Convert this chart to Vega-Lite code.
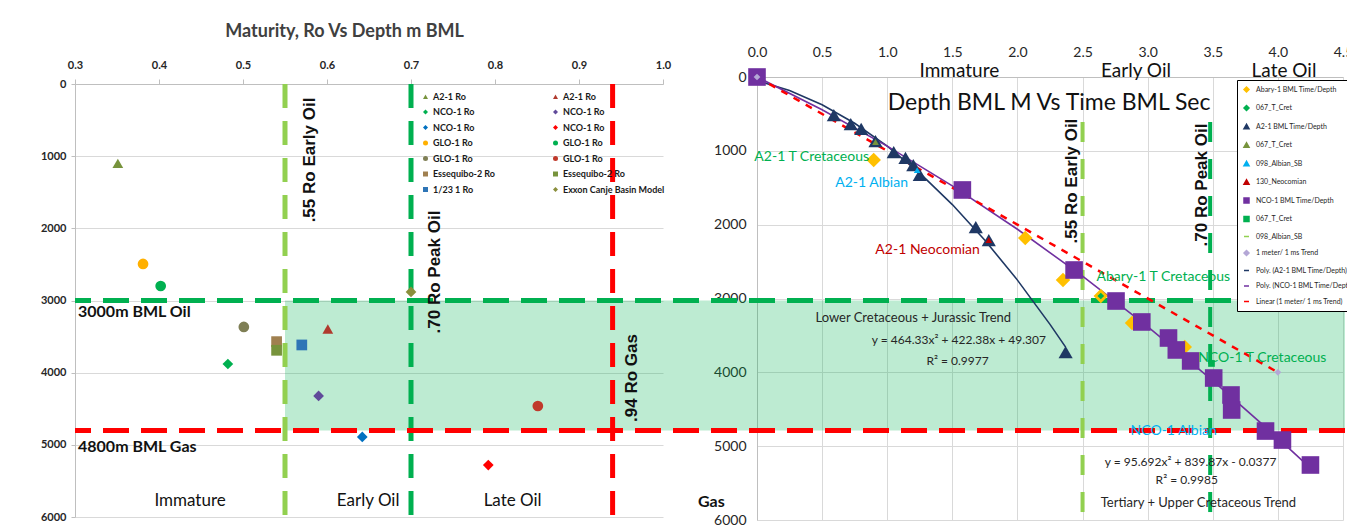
{
  "$schema": "https://vega.github.io/schema/vega-lite/v6.json",
  "width": 1270,
  "height": 439,
  "autosize": {"type": "none"},
  "padding": {"left": 75, "top": 80, "right": 2, "bottom": 13},
  "background": "white",
  "config": {
    "view": {"stroke": null},
    "font": "Lato",
    "axis": {"labelFont": "Lato", "labelOverlap": false, "labelFlush": false, "labelBound": false},
    "legend": {"labelFont": "Lato"}
  },
  "datasets": {
    "leftPoints": [
      {"series": "A2-1 Ro#1", "ro": 0.351, "depth": 1100},
      {"series": "A2-1 Ro#2", "ro": 0.601, "depth": 3395},
      {"series": "NCO-1 Ro#1", "ro": 0.482, "depth": 3880},
      {"series": "NCO-1 Ro#2", "ro": 0.59, "depth": 4323},
      {"series": "NCO-1 Ro#3", "ro": 0.642, "depth": 4891},
      {"series": "NCO-1 Ro#4", "ro": 0.792, "depth": 5280},
      {"series": "GLO-1 Ro#1", "ro": 0.381, "depth": 2494},
      {"series": "GLO-1 Ro#2", "ro": 0.402, "depth": 2799},
      {"series": "GLO-1 Ro#3", "ro": 0.501, "depth": 3367},
      {"series": "GLO-1 Ro#4", "ro": 0.851, "depth": 4462},
      {"series": "Essequibo-2 Ro#1", "ro": 0.54, "depth": 3570},
      {"series": "Essequibo-2 Ro#2", "ro": 0.54, "depth": 3690},
      {"series": "1/23 1 Ro", "ro": 0.57, "depth": 3616},
      {"series": "Exxon Canje Basin Model", "ro": 0.70, "depth": 2882}
    ],
    "abary": [
      {"series": "Abary-1 BML Time/Depth", "t": 0.896, "depth": 1124},
      {"series": "Abary-1 BML Time/Depth", "t": 2.06, "depth": 2181},
      {"series": "Abary-1 BML Time/Depth", "t": 2.35, "depth": 2750},
      {"series": "Abary-1 BML Time/Depth", "t": 2.64, "depth": 2966},
      {"series": "Abary-1 BML Time/Depth", "t": 2.88, "depth": 3332},
      {"series": "Abary-1 BML Time/Depth", "t": 3.285, "depth": 3657}
    ],
    "a21": [
      {"series": "A2-1 BML Time/Depth", "t": 0.59, "depth": 515},
      {"series": "A2-1 BML Time/Depth", "t": 0.72, "depth": 637},
      {"series": "A2-1 BML Time/Depth", "t": 0.80, "depth": 704},
      {"series": "A2-1 BML Time/Depth", "t": 0.91, "depth": 867},
      {"series": "A2-1 BML Time/Depth", "t": 1.05, "depth": 1016},
      {"series": "A2-1 BML Time/Depth", "t": 1.14, "depth": 1097},
      {"series": "A2-1 BML Time/Depth", "t": 1.20, "depth": 1192},
      {"series": "A2-1 BML Time/Depth", "t": 1.25, "depth": 1327},
      {"series": "A2-1 BML Time/Depth", "t": 1.68, "depth": 2032},
      {"series": "A2-1 BML Time/Depth", "t": 1.78, "depth": 2208},
      {"series": "A2-1 BML Time/Depth", "t": 2.37, "depth": 3725}
    ],
    "nco1": [
      {"series": "NCO-1 BML Time/Depth", "t": 0.0, "depth": 0},
      {"series": "NCO-1 BML Time/Depth", "t": 1.577, "depth": 1530},
      {"series": "NCO-1 BML Time/Depth", "t": 2.435, "depth": 2614},
      {"series": "NCO-1 BML Time/Depth", "t": 2.757, "depth": 3034},
      {"series": "NCO-1 BML Time/Depth", "t": 2.955, "depth": 3318},
      {"series": "NCO-1 BML Time/Depth", "t": 3.16, "depth": 3535},
      {"series": "NCO-1 BML Time/Depth", "t": 3.22, "depth": 3697},
      {"series": "NCO-1 BML Time/Depth", "t": 3.33, "depth": 3846},
      {"series": "NCO-1 BML Time/Depth", "t": 3.507, "depth": 4077},
      {"series": "NCO-1 BML Time/Depth", "t": 3.64, "depth": 4307},
      {"series": "NCO-1 BML Time/Depth", "t": 3.645, "depth": 4510},
      {"series": "NCO-1 BML Time/Depth", "t": 3.905, "depth": 4795},
      {"series": "NCO-1 BML Time/Depth", "t": 4.035, "depth": 4917},
      {"series": "NCO-1 BML Time/Depth", "t": 4.25, "depth": 5255}
    ],
    "markers": [
      {"series": "067_T_Cret#1", "t": 2.64, "depth": 2966},
      {"series": "067_T_Cret#2", "t": 0.91, "depth": 880},
      {"series": "098_Albian_SB#1", "t": 1.23, "depth": 1260},
      {"series": "130_Neocomian", "t": 1.78, "depth": 2208},
      {"series": "067_T_Cret#3", "t": 3.49, "depth": 3880},
      {"series": "098_Albian_SB#2", "t": 3.9, "depth": 4795},
      {"series": "1 meter/ 1 ms Trend", "t": 0.0, "depth": 0},
      {"series": "1 meter/ 1 ms Trend", "t": 4.0, "depth": 4000}
    ],
    "trends": [
      {"series": "Poly. (A2-1 BML Time/Depth)", "t": 0.0, "depth": 49},
      {"series": "Poly. (A2-1 BML Time/Depth)", "t": 0.25, "depth": 184},
      {"series": "Poly. (A2-1 BML Time/Depth)", "t": 0.5, "depth": 377},
      {"series": "Poly. (A2-1 BML Time/Depth)", "t": 0.75, "depth": 627},
      {"series": "Poly. (A2-1 BML Time/Depth)", "t": 1.0, "depth": 936},
      {"series": "Poly. (A2-1 BML Time/Depth)", "t": 1.25, "depth": 1303},
      {"series": "Poly. (A2-1 BML Time/Depth)", "t": 1.5, "depth": 1728},
      {"series": "Poly. (A2-1 BML Time/Depth)", "t": 1.75, "depth": 2211},
      {"series": "Poly. (A2-1 BML Time/Depth)", "t": 2.0, "depth": 2751},
      {"series": "Poly. (A2-1 BML Time/Depth)", "t": 2.25, "depth": 3350},
      {"series": "Poly. (A2-1 BML Time/Depth)", "t": 2.37, "depth": 3658},
      {"series": "Poly. (NCO-1 BML Time/Depth)", "t": 0.0, "depth": 0},
      {"series": "Poly. (NCO-1 BML Time/Depth)", "t": 0.5, "depth": 444},
      {"series": "Poly. (NCO-1 BML Time/Depth)", "t": 1.0, "depth": 936},
      {"series": "Poly. (NCO-1 BML Time/Depth)", "t": 1.5, "depth": 1475},
      {"series": "Poly. (NCO-1 BML Time/Depth)", "t": 2.0, "depth": 2062},
      {"series": "Poly. (NCO-1 BML Time/Depth)", "t": 2.5, "depth": 2698},
      {"series": "Poly. (NCO-1 BML Time/Depth)", "t": 3.0, "depth": 3381},
      {"series": "Poly. (NCO-1 BML Time/Depth)", "t": 3.5, "depth": 4112},
      {"series": "Poly. (NCO-1 BML Time/Depth)", "t": 4.0, "depth": 4891},
      {"series": "Poly. (NCO-1 BML Time/Depth)", "t": 4.25, "depth": 5298}
    ],
    "linear": [
      {"series": "Linear (1 meter/ 1 ms Trend)", "t": 0.0, "depth": 0},
      {"series": "Linear (1 meter/ 1 ms Trend)", "t": 4.0, "depth": 4000}
    ]
  },
  "resolve": {
    "scale": {"x": "independent", "y": "independent", "color": "independent", "shape": "independent"},
    "axis": {"x": "independent", "y": "independent"},
    "legend": {"color": "independent", "shape": "independent"}
  },
  "layer": [
    {
      "layer": [
        {
          "data": {"values": [{"ro": 0.55, "d1": 3000, "d2": 4800}]},
          "mark": {"type": "rect", "color": "#00B050", "opacity": 0.26},
          "encoding": {
            "x": {"field": "ro", "type": "quantitative",
              "scale": {"domain": [0.3, 1.0], "range": [0, 588], "nice": false, "zero": false},
              "axis": {"orient": "top", "offset": -4, "title": null, "values": [0.3, 0.4, 0.5, 0.6, 0.7, 0.8, 0.9, 1.0], "format": ".1f",
                "labelFontSize": 11, "labelFontWeight": "bold", "labelColor": "#262626", "tickSize": 5, "tickColor": "#bfbfbf",
                "labelPadding": 9, "domainColor": "#bfbfbf", "grid": false}},
            "x2": {"value": "width"},
            "y": {"field": "d1", "type": "quantitative",
              "scale": {"domain": [0, 6000], "range": [4, 437], "nice": false, "zero": false},
              "axis": {"orient": "left", "title": null, "values": [0, 1000, 2000, 3000, 4000, 5000, 6000], "format": "d",
                "labelFontSize": 11, "labelFontWeight": "bold", "labelColor": "#262626", "tickSize": 4, "tickColor": "#bfbfbf",
                "labelPadding": 5, "domainColor": "#bfbfbf", "grid": true, "gridColor": "#d9d9d9"}},
            "y2": {"field": "d2"}
          }
        },
        {
          "data": {"values": [{"ro": 0.55, "top": 0, "bottom": 6000}]},
          "mark": {"type": "rule", "color": "#92D050", "strokeWidth": 5, "strokeDash": [24, 13]},
          "encoding": {"x": {"field": "ro", "type": "quantitative"}, "y": {"field": "top", "type": "quantitative"}, "y2": {"field": "bottom"}}
        },
        {
          "data": {"values": [{"ro": 0.70, "top": 0, "bottom": 6000}]},
          "mark": {"type": "rule", "color": "#00B050", "strokeWidth": 5, "strokeDash": [24, 13]},
          "encoding": {"x": {"field": "ro", "type": "quantitative"}, "y": {"field": "top", "type": "quantitative"}, "y2": {"field": "bottom"}}
        },
        {
          "data": {"values": [{"ro": 0.94, "top": 0, "bottom": 6000}]},
          "mark": {"type": "rule", "color": "#FF0000", "strokeWidth": 5, "strokeDash": [24, 13]},
          "encoding": {"x": {"field": "ro", "type": "quantitative"}, "y": {"field": "top", "type": "quantitative"}, "y2": {"field": "bottom"}}
        },
        {
          "data": {"values": [{"depth": 3000}]},
          "mark": {"type": "rule", "color": "#00B050", "strokeWidth": 5, "strokeDash": [26, 12]},
          "encoding": {"y": {"field": "depth", "type": "quantitative"}}
        },
        {
          "data": {"values": [{"depth": 4800}]},
          "mark": {"type": "rule", "color": "#FF0000", "strokeWidth": 5, "strokeDash": [26, 12]},
          "encoding": {"y": {"field": "depth", "type": "quantitative"}}
        },
        {
          "data": {"name": "leftPoints"},
          "mark": {"type": "point", "filled": true, "size": 115, "opacity": 1},
          "encoding": {
            "x": {"field": "ro", "type": "quantitative"},
            "y": {"field": "depth", "type": "quantitative"},
            "color": {"field": "series", "type": "nominal",
              "scale": {"domain": ["A2-1 Ro#1", "NCO-1 Ro#1", "NCO-1 Ro#3", "GLO-1 Ro#1", "GLO-1 Ro#3", "Essequibo-2 Ro#1", "1/23 1 Ro", "A2-1 Ro#2", "NCO-1 Ro#2", "NCO-1 Ro#4", "GLO-1 Ro#2", "GLO-1 Ro#4", "Essequibo-2 Ro#2", "Exxon Canje Basin Model"],
                "range": ["#77933C", "#00B050", "#0070C0", "#FFB000", "#7F7F55", "#A08050", "#2E75B6", "#B03A2E", "#604A9A", "#FF0000", "#00B050", "#C0392B", "#77933C", "#8A8F3C"]},
              "legend": {"orient": "none", "legendX": 346, "legendY": 12, "columns": 2, "title": null, "padding": 0,
                "labelFontSize": 9, "labelFontWeight": "bold", "labelColor": "#1a1a1a", "symbolSize": 25, "rowPadding": 5.5,
                "columnPadding": 56, "labelOffset": 3, "labelExpr": "split(datum.label, '#')[0]"}},
            "shape": {"field": "series", "type": "nominal",
              "scale": {"domain": ["A2-1 Ro#1", "NCO-1 Ro#1", "NCO-1 Ro#3", "GLO-1 Ro#1", "GLO-1 Ro#3", "Essequibo-2 Ro#1", "1/23 1 Ro", "A2-1 Ro#2", "NCO-1 Ro#2", "NCO-1 Ro#4", "GLO-1 Ro#2", "GLO-1 Ro#4", "Essequibo-2 Ro#2", "Exxon Canje Basin Model"],
                "range": ["triangle-up", "diamond", "diamond", "circle", "circle", "square", "square", "triangle-up", "diamond", "diamond", "circle", "circle", "square", "diamond"]},
              "legend": {"orient": "none", "legendX": 346, "legendY": 12, "columns": 2, "title": null, "padding": 0,
                "labelFontSize": 9, "labelFontWeight": "bold", "labelColor": "#1a1a1a", "symbolSize": 25, "rowPadding": 5.5,
                "columnPadding": 56, "labelOffset": 3, "labelExpr": "split(datum.label, '#')[0]"}}
          }
        },
        {
          "data": {"values": [
            {"ro": 0.3036, "depth": 3159, "label": "3000m BML Oil"},
            {"ro": 0.3036, "depth": 5030, "label": "4800m BML Gas"},
            {"ro": 1.0417, "depth": 5792, "label": "Gas"}
          ]},
          "mark": {"type": "text", "align": "left", "font": "Lato", "fontWeight": "bold", "fontSize": 16, "color": "#111111"},
          "encoding": {"x": {"field": "ro", "type": "quantitative"}, "y": {"field": "depth", "type": "quantitative"}, "text": {"field": "label"}}
        },
        {
          "data": {"values": [
            {"ro": 0.437, "depth": 5778, "label": "Immature"},
            {"ro": 0.649, "depth": 5778, "label": "Early Oil"},
            {"ro": 0.821, "depth": 5778, "label": "Late Oil"}
          ]},
          "mark": {"type": "text", "align": "center", "font": "Lato", "fontSize": 17, "color": "#111111"},
          "encoding": {"x": {"field": "ro", "type": "quantitative"}, "y": {"field": "depth", "type": "quantitative"}, "text": {"field": "label"}}
        },
        {
          "data": {"values": [
            {"ro": 0.58, "depth": 1053, "label": ".55 Ro  Early Oil"},
            {"ro": 0.729, "depth": 2605, "label": ".70 Ro Peak Oil"},
            {"ro": 0.963, "depth": 4074, "label": ".94 Ro Gas"}
          ]},
          "mark": {"type": "text", "align": "center", "baseline": "middle", "angle": 270, "font": "Liberation Sans", "fontWeight": "bold", "fontSize": 17, "color": "#111111"},
          "encoding": {"x": {"field": "ro", "type": "quantitative"}, "y": {"field": "depth", "type": "quantitative"}, "text": {"field": "label"}}
        },
        {
          "data": {"values": [{"ro": 0.621, "depth": -720, "label": "Maturity, Ro Vs Depth m BML"}]},
          "mark": {"type": "text", "align": "center", "font": "Lato", "fontWeight": "bold", "fontSize": 18, "color": "#404040"},
          "encoding": {"x": {"field": "ro", "type": "quantitative"}, "y": {"field": "depth", "type": "quantitative"}, "text": {"field": "label"}}
        }
      ]
    },
    {
      "layer": [
        {
          "data": {"values": [{"t": 2.5, "top": 610, "bottom": 6000}]},
          "mark": {"type": "rule", "color": "#92D050", "strokeWidth": 4, "strokeDash": [20, 17]},
          "encoding": {
            "x": {"field": "t", "type": "quantitative",
              "scale": {"domain": [0, 4.5], "range": [682, 1268], "nice": false, "zero": false},
              "axis": {"orient": "top", "offset": 3, "title": null, "values": [0, 0.5, 1, 1.5, 2, 2.5, 3, 3.5, 4, 4.5], "format": ".1f",
                "labelFontSize": 14, "labelColor": "#262626", "ticks": false, "labelPadding": 18,
                "domainColor": "#bfbfbf", "grid": true, "gridColor": "#d9d9d9"}},
            "y": {"field": "top", "type": "quantitative",
              "scale": {"domain": [0, 6000], "range": [-3, 440], "nice": false, "zero": false},
              "axis": {"orient": "left", "offset": -682, "title": null, "values": [0, 1000, 2000, 3000, 4000, 5000, 6000], "format": "d",
                "labelFontSize": 14, "labelColor": "#262626", "ticks": false, "labelPadding": 11,
                "domainColor": "#bfbfbf", "grid": true, "gridColor": "#d9d9d9"}},
            "y2": {"field": "bottom"}
          }
        },
        {
          "data": {"values": [{"t": 3.48, "top": 610, "bottom": 6000}]},
          "mark": {"type": "rule", "color": "#00B050", "strokeWidth": 4, "strokeDash": [20, 17]},
          "encoding": {"x": {"field": "t", "type": "quantitative"}, "y": {"field": "top", "type": "quantitative"}, "y2": {"field": "bottom"}}
        },
        {
          "data": {"name": "trends"},
          "mark": {"type": "line", "strokeWidth": 1.6},
          "encoding": {
            "x": {"field": "t", "type": "quantitative"},
            "y": {"field": "depth", "type": "quantitative"},
            "color": {"field": "series", "type": "nominal"}
          }
        },
        {
          "data": {"name": "linear"},
          "mark": {"type": "line", "strokeWidth": 2.5, "strokeDash": [7, 7]},
          "encoding": {
            "x": {"field": "t", "type": "quantitative"},
            "y": {"field": "depth", "type": "quantitative"},
            "color": {"field": "series", "type": "nominal"}
          }
        },
        {
          "data": {"name": "abary"},
          "mark": {"type": "point", "filled": true, "size": 210, "opacity": 1},
          "encoding": {
            "x": {"field": "t", "type": "quantitative"},
            "y": {"field": "depth", "type": "quantitative"},
            "color": {"field": "series", "type": "nominal"},
            "shape": {"field": "series", "type": "nominal"}
          }
        },
        {
          "data": {"name": "a21"},
          "mark": {"type": "point", "filled": true, "size": 200, "opacity": 1},
          "encoding": {
            "x": {"field": "t", "type": "quantitative"},
            "y": {"field": "depth", "type": "quantitative"},
            "color": {"field": "series", "type": "nominal"},
            "shape": {"field": "series", "type": "nominal"}
          }
        },
        {
          "data": {"name": "nco1"},
          "mark": {"type": "point", "filled": true, "size": 310, "opacity": 1},
          "encoding": {
            "x": {"field": "t", "type": "quantitative"},
            "y": {"field": "depth", "type": "quantitative"},
            "color": {"field": "series", "type": "nominal",
              "scale": {"domain": ["Abary-1 BML Time/Depth", "067_T_Cret#1", "A2-1 BML Time/Depth", "067_T_Cret#2", "098_Albian_SB#1", "130_Neocomian", "NCO-1 BML Time/Depth", "067_T_Cret#3", "098_Albian_SB#2", "1 meter/ 1 ms Trend", "Poly. (A2-1 BML Time/Depth)", "Poly. (NCO-1 BML Time/Depth)", "Linear (1 meter/ 1 ms Trend)"],
                "range": ["#FFC000", "#00B050", "#1F3864", "#77933C", "#00B0F0", "#C00000", "#7030A0", "#00B050", "#92D050", "#B4A7D6", "#1F3864", "#7030A0", "#FF0000"]},
              "legend": {"orient": "none", "legendX": 1162, "legendY": 0, "title": null, "direction": "vertical", "fillColor": "white",
                "strokeColor": "#000000", "padding": 6, "labelFontSize": 7, "labelColor": "#262626", "symbolSize": 25, "rowPadding": 7.5,
                "symbolStrokeWidth": 1.5, "labelOffset": 6, "labelExpr": "split(datum.label, '#')[0]"}},
            "shape": {"field": "series", "type": "nominal",
              "scale": {"domain": ["Abary-1 BML Time/Depth", "067_T_Cret#1", "A2-1 BML Time/Depth", "067_T_Cret#2", "098_Albian_SB#1", "130_Neocomian", "NCO-1 BML Time/Depth", "067_T_Cret#3", "098_Albian_SB#2", "1 meter/ 1 ms Trend", "Poly. (A2-1 BML Time/Depth)", "Poly. (NCO-1 BML Time/Depth)", "Linear (1 meter/ 1 ms Trend)"],
                "range": ["diamond", "diamond", "triangle-up", "triangle-up", "triangle-up", "triangle-up", "square", "square", "stroke", "diamond", "stroke", "stroke", "stroke"]},
              "legend": {"orient": "none", "legendX": 1162, "legendY": 0, "title": null, "direction": "vertical", "fillColor": "white",
                "strokeColor": "#000000", "padding": 6, "labelFontSize": 7, "labelColor": "#262626", "symbolSize": 25, "rowPadding": 7.5,
                "symbolStrokeWidth": 1.5, "labelOffset": 6, "labelExpr": "split(datum.label, '#')[0]"}}
          }
        },
        {
          "data": {"name": "markers"},
          "mark": {"type": "point", "filled": true, "size": 45, "opacity": 1},
          "encoding": {
            "x": {"field": "t", "type": "quantitative"},
            "y": {"field": "depth", "type": "quantitative"},
            "color": {"field": "series", "type": "nominal"},
            "shape": {"field": "series", "type": "nominal"}
          }
        },
        {
          "data": {"values": [
            {"t": 1.554, "depth": -81, "label": "Immature"},
            {"t": 2.91, "depth": -81, "label": "Early Oil"},
            {"t": 4.047, "depth": -81, "label": "Late Oil"}
          ]},
          "mark": {"type": "text", "align": "center", "font": "Lato", "fontSize": 19, "color": "#111111"},
          "encoding": {"x": {"field": "t", "type": "quantitative"}, "y": {"field": "depth", "type": "quantitative"}, "text": {"field": "label"}}
        },
        {
          "data": {"values": [{"t": 2.243, "depth": 352, "label": "Depth BML M Vs Time BML Sec"}]},
          "mark": {"type": "text", "align": "center", "font": "Lato", "fontSize": 23, "color": "#111111"},
          "encoding": {"x": {"field": "t", "type": "quantitative"}, "y": {"field": "depth", "type": "quantitative"}, "text": {"field": "label"}}
        },
        {
          "data": {"values": [
            {"t": 0.42, "depth": 1084, "label": "A2-1 T Cretaceous"},
            {"t": 3.12, "depth": 2709, "label": "Abary-1 T Cretaceous"},
            {"t": 3.88, "depth": 3806, "label": "NCO-1 T Cretaceous"}
          ]},
          "mark": {"type": "text", "align": "center", "font": "Lato", "fontSize": 14, "color": "#00B050"},
          "encoding": {"x": {"field": "t", "type": "quantitative"}, "y": {"field": "depth", "type": "quantitative"}, "text": {"field": "label"}}
        },
        {
          "data": {"values": [
            {"t": 0.88, "depth": 1436, "label": "A2-1 Albian"},
            {"t": 3.2, "depth": 4795, "label": "NCO-1 Albian"}
          ]},
          "mark": {"type": "text", "align": "center", "font": "Lato", "fontSize": 14, "color": "#00B0F0"},
          "encoding": {"x": {"field": "t", "type": "quantitative"}, "y": {"field": "depth", "type": "quantitative"}, "text": {"field": "label"}}
        },
        {
          "data": {"values": [{"t": 1.31, "depth": 2343, "label": "A2-1 Neocomian"}]},
          "mark": {"type": "text", "align": "center", "font": "Lato", "fontSize": 14, "color": "#C00000"},
          "encoding": {"x": {"field": "t", "type": "quantitative"}, "y": {"field": "depth", "type": "quantitative"}, "text": {"field": "label"}}
        },
        {
          "data": {"values": [
            {"t": 1.2, "depth": 3264, "label": "Lower Cretaceous + Jurassic Trend"},
            {"t": 3.39, "depth": 5770, "label": "Tertiary + Upper Cretaceous Trend"}
          ]},
          "mark": {"type": "text", "align": "center", "font": "Lato", "fontSize": 13, "color": "#262626"},
          "encoding": {"x": {"field": "t", "type": "quantitative"}, "y": {"field": "depth", "type": "quantitative"}, "text": {"field": "label"}}
        },
        {
          "data": {"values": [
            {"t": 1.55, "depth": 3562, "label": "y = 464.33x² + 422.38x + 49.307"},
            {"t": 1.54, "depth": 3847, "label": "R² = 0.9977"},
            {"t": 3.33, "depth": 5215, "label": "y = 95.692x² + 839.87x - 0.0377"},
            {"t": 3.3, "depth": 5458, "label": "R² = 0.9985"}
          ]},
          "mark": {"type": "text", "align": "center", "font": "Lato", "fontSize": 12, "color": "#262626"},
          "encoding": {"x": {"field": "t", "type": "quantitative"}, "y": {"field": "depth", "type": "quantitative"}, "text": {"field": "label"}}
        },
        {
          "data": {"values": [
            {"t": 2.42, "depth": 1409, "label": ".55 Ro  Early Oil"},
            {"t": 3.415, "depth": 1463, "label": ".70 Ro Peak Oil"}
          ]},
          "mark": {"type": "text", "align": "center", "baseline": "middle", "angle": 270, "font": "Liberation Sans", "fontWeight": "bold", "fontSize": 17, "color": "#111111"},
          "encoding": {"x": {"field": "t", "type": "quantitative"}, "y": {"field": "depth", "type": "quantitative"}, "text": {"field": "label"}}
        }
      ]
    }
  ]
}
